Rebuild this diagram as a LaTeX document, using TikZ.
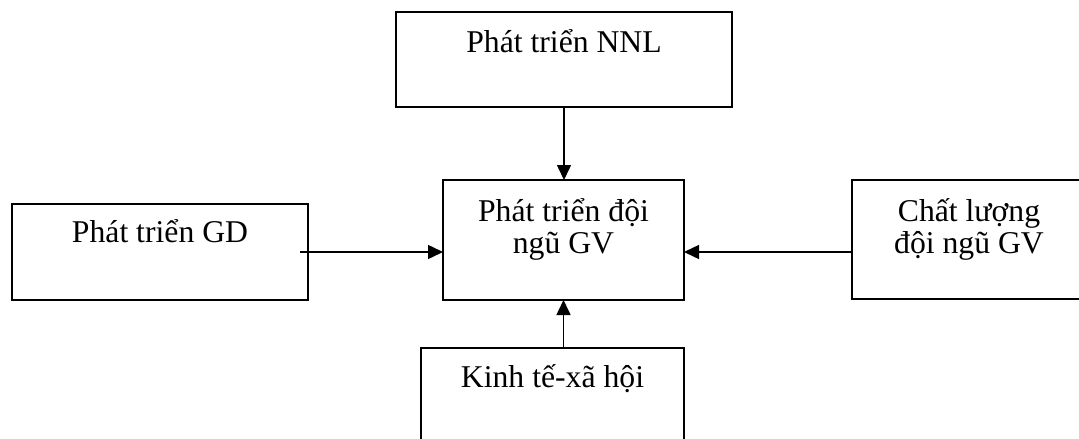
\documentclass[tikz,border=0pt]{standalone}
\usepackage{fontspec}
\setmainfont{Liberation Serif}
\usetikzlibrary{arrows.meta,calc}
\begin{document}
\begin{tikzpicture}[x=1pt,y=-1pt,
  box/.style={draw, line width=2pt, rectangle, inner sep=0pt, outer sep=0pt},
  lbl/.style={font=\fontsize{31.7}{31.5}\selectfont, align=center, inner sep=0pt, anchor=base},
  arr/.style={line width=1.5pt, -{Triangle[length=15pt,width=14pt]}}]
\useasboundingbox (0,0) rectangle (1079,439);
\fill[white] (0,0) rectangle (1079,439);
\clip (0,0) rectangle (1079,439);
% boxes
\node[box, minimum width=336pt, minimum height=95pt] (nnl) at (564,59.5) {};
\node[box, minimum width=296pt, minimum height=96pt] (gd) at (160,252) {};
\node[box, minimum width=241pt, minimum height=120pt] (gv) at (563.5,240) {};
\node[box, minimum width=234pt, minimum height=119pt] (cl) at (969,239.5) {};
\node[box, minimum width=263pt, minimum height=122pt] (kt) at (552.5,409) {};
% texts
\node[lbl] (tnnl) at ([yshift=-40pt]nnl.north) {Phát triển NNL};
\node[lbl] (tgd) at ([yshift=-38pt]gd.north) {Phát triển GD};
\node[lbl] (tgv) at ([yshift=-73pt]gv.north) {Phát triển đội\\ngũ GV};
\node[lbl] (tcl) at ([yshift=-73pt]cl.north) {Chất lượng\\đội ngũ GV};
\node[lbl] (tkt) at ([yshift=-39pt]kt.north) {Kinh tế-xã hội};
% connectors
\draw[arr] (nnl.south) -- (nnl.south |- gv.north);
\draw[arr] ([xshift=-8pt]gd.east) -- (gv.west |- gd.east);
\draw[arr] (cl.west |- gd.east) -- (gv.east |- gd.east);
\draw[arr] (gv.south |- kt.north) -- (gv.south);
\end{tikzpicture}
\end{document}
